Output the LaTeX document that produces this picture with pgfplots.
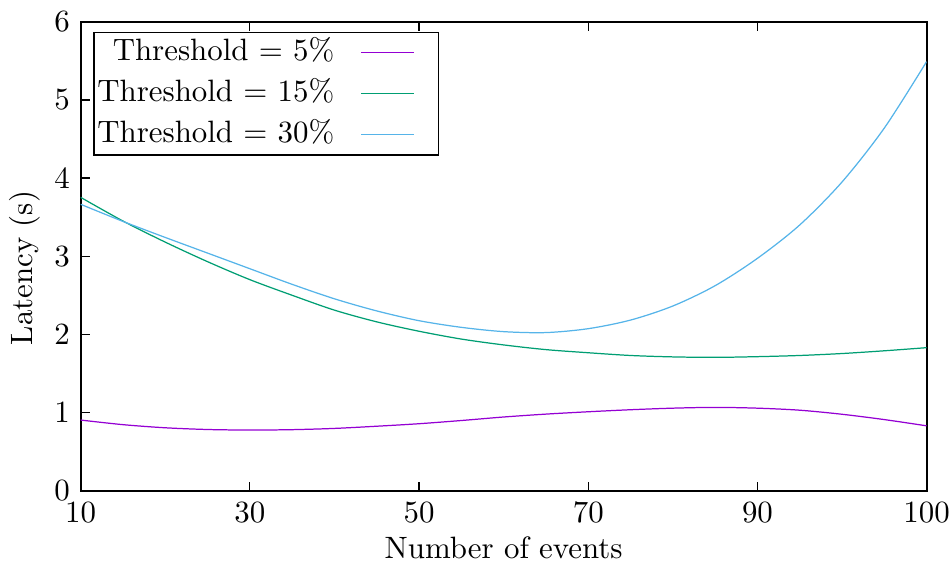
\documentclass[border=0pt]{standalone}
\usepackage{pgfplots}
\pgfplotsset{compat=1.18}
\definecolor{gpPurple}{HTML}{9400D3}
\definecolor{gpGreen}{HTML}{009E73}
\definecolor{gpBlue}{HTML}{56B4E9}
\begin{document}
\begin{tikzpicture}
\path[use as bounding box] (-26.03bp,-24.61bp) rectangle (281.08bp,158.30bp);
\begin{axis}[
  at={(0,0)}, anchor=south west,
  scale only axis,
  width=272.9bp, height=151.3bp,
  xmin=0, xmax=5, ymin=0, ymax=6,
  xtick={0,1,2,3,4,5},
  xticklabels={10,30,50,70,90,100},
  ytick={0,1,2,3,4,5,6},
  xtick pos=both, ytick pos=left,
  tick align=inside,
  major tick length=2.9bp,
  tick style={black, line width=0.4pt},
  axis line style={black, line width=0.6pt},
  font=\fontsize{10}{12}\selectfont,
  xlabel={Number of events},
  ylabel={Latency (s)},
  xlabel style={at={(axis description cs:0.5,-0.1215)}, anchor=center},
  ylabel style={at={(axis description cs:-0.0658,0.475)}, anchor=center},
  legend cell align=right,
  legend plot pos=right,
  legend image code/.code={\draw (8.7bp,0bp) -- (25.8bp,0bp); \path[draw=none,fill=none] (0bp,-0.5bp) rectangle (32.4bp,0.5bp);},
  legend style={at={(axis description cs:0.0149,0.9787)}, anchor=north west,
    draw=black, line width=0.4pt, fill=white,
    inner xsep=1.1bp, inner ysep=0bp, row sep=0bp,
    nodes={text height=7.5bp, text depth=2.5bp, inner ysep=1.6bp, inner xsep=0bp},
    /tikz/every even column/.append style={column sep=0bp}},
]
\addplot[gpPurple, line width=0.4pt, smooth] coordinates {
(0,0.904) (0.25,0.845) (0.5,0.805) (0.75,0.783) (1.0,0.776) (1.25,0.781)
(1.5,0.797) (1.75,0.825) (2.0,0.857) (2.25,0.898) (2.5,0.943) (2.75,0.98)
(3.0,1.01) (3.25,1.036) (3.5,1.056) (3.75,1.066) (4.0,1.056) (4.25,1.03)
(4.5,0.978) (4.75,0.91) (5.0,0.83)};
\addlegendentry{Threshold = 5\%}
\addplot[gpGreen, line width=0.4pt, smooth] coordinates {
(0,3.753) (0.25,3.45) (0.5,3.18) (0.75,2.93) (1.0,2.70) (1.25,2.50)
(1.5,2.31) (1.75,2.16) (2.0,2.04) (2.25,1.94) (2.5,1.865) (2.75,1.805)
(3.0,1.765) (3.25,1.73) (3.5,1.712) (3.75,1.706) (4.0,1.715) (4.25,1.73)
(4.5,1.755) (4.75,1.79) (5.0,1.83)};
\addlegendentry{Threshold = 15\%}
\addplot[gpBlue, line width=0.4pt, smooth] coordinates {
(0,3.664) (0.25,3.445) (0.5,3.24) (0.75,3.04) (1.0,2.84) (1.25,2.64)
(1.5,2.455) (1.75,2.30) (2.0,2.175) (2.25,2.09) (2.5,2.035) (2.75,2.023)
(3.0,2.073) (3.25,2.183) (3.5,2.363) (3.75,2.623) (4.0,2.973) (4.25,3.40)
(4.5,3.95) (4.75,4.64) (5.0,5.49)};
\addlegendentry{Threshold = 30\%}
\end{axis}
\end{tikzpicture}
\end{document}
